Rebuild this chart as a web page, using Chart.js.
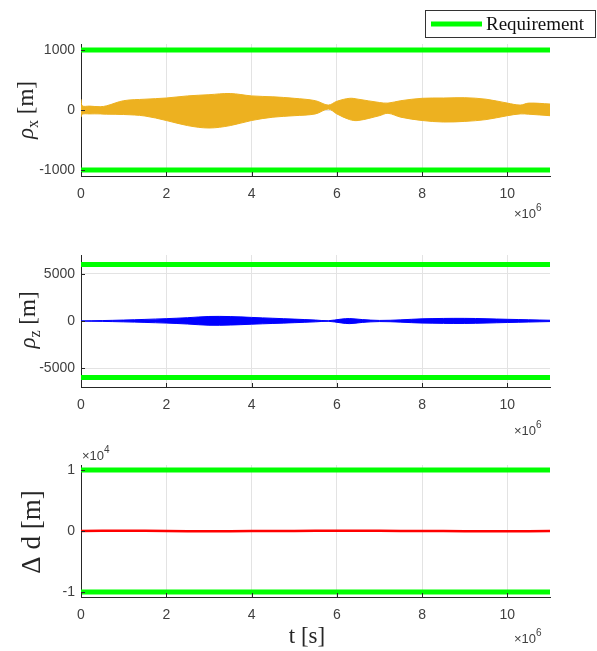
<!DOCTYPE html>
<html>
<head>
<meta charset="utf-8">
<script src="https://cdn.jsdelivr.net/npm/chart.js@4.4.1/dist/chart.umd.min.js"></script>
<style>
  body { margin: 0; background: #fff; }
  #wrap { position: relative; width: 597px; height: 651px; }
  canvas { position: absolute; left: 0; }
</style>
</head>
<body>
<div id="wrap">
  <canvas id="c1" width="597" height="225" style="top:0"></canvas>
  <canvas id="c2" width="597" height="215" style="top:225px"></canvas>
  <canvas id="c3" width="597" height="211" style="top:440px"></canvas>
</div>
<script>
// time axis [s]
const xTicks = [0, 2e6, 4e6, 6e6, 8e6, 10e6];
const tEnd = 11e6;

// rho_x envelope [m]
const tX = [0, 0.03e6, 0.2e6, 0.45e6, 0.6e6, 1e6, 1.5e6, 2e6, 2.5e6, 3e6, 3.5e6, 4e6, 4.5e6, 5e6, 5.5e6, 5.8e6, 6e6, 6.3e6, 6.5e6, 7e6, 7.2e6, 7.5e6, 8e6, 8.5e6, 9e6, 9.5e6, 10e6, 10.3e6, 10.5e6, 11e6];
const rhoxUpper = [180, 70, 65, 55, 70, 155, 180, 200, 235, 255, 275, 235, 220, 195, 155, 82, 145, 195, 180, 125, 115, 155, 195, 200, 205, 180, 115, 82, 115, 100];
const rhoxLower = [-120, -70, -65, -65, -70, -75, -100, -175, -260, -300, -260, -175, -120, -95, -65, 16, -65, -160, -175, -95, -55, -120, -175, -200, -190, -160, -95, -65, -70, -95];
const rhoxTicks = [-1000, 0, 1000];

// rho_z envelope [m]
const tZ = [0, 1e6, 2e6, 2.5e6, 3e6, 3.5e6, 4e6, 5e6, 5.5e6, 5.8e6, 6.1e6, 6.3e6, 6.6e6, 7e6, 7.5e6, 8e6, 9e6, 10e6, 11e6];
const rhozUpper = [0, 100, 250, 350, 480, 470, 380, 200, 100, 30, 200, 260, 150, 60, 120, 230, 280, 180, 80];
const rhozLower = [0, -90, -220, -320, -450, -430, -340, -180, -90, -30, -200, -280, -150, -60, -120, -220, -260, -160, -60];
const rhozTicks = [-5000, 0, 5000];

// delta d [m]
const tD = [0, 1e6, 2e6, 3e6, 4e6, 5e6, 6e6, 7e6, 8e6, 9e6, 10e6, 11e6];
const deltaD = [0, 50, 0, -60, -20, 0, 60, 30, 0, -30, -60, 0];
const deltaTicks = [-10000, 0, 10000];

// requirement limits
const reqX = 1000, reqZ = 6000, reqD = 10000;

const ORANGE = '#EDB120', BLUE = '#0000FF', RED = '#FF0000', GREEN = '#00FF00';
const AXIS = '#262626';

function pts(t, v) { return t.map((x, i) => ({ x: x, y: v[i] })); }
function req(v) { return [{ x: 0, y: v }, { x: tEnd, y: v }]; }

function reqSets(v) {
  return [
    { data: req(v), borderColor: GREEN, borderWidth: 5, pointRadius: 0, fill: false, label: 'Requirement' },
    { data: req(-v), borderColor: GREEN, borderWidth: 5, pointRadius: 0, fill: false }
  ];
}

function bandSets(t, up, lo, color) {
  return [
    { data: pts(t, up), borderColor: color, borderWidth: 1, backgroundColor: color, pointRadius: 0, tension: 0.35, fill: '+1' },
    { data: pts(t, lo), borderColor: color, borderWidth: 1, pointRadius: 0, tension: 0.35, fill: false }
  ];
}

function expo(ctx, x, y, p) {
  ctx.font = '13px "Liberation Sans"';
  ctx.fillText('\u00d710', x, y);
  const w = ctx.measureText('\u00d710').width;
  ctx.font = '10px "Liberation Sans"';
  ctx.fillText(p, x + w, y - 7);
}

const extras = {
  id: 'extras',
  afterDraw(chart, args, o) {
    const ctx = chart.ctx, a = chart.chartArea;
    const xs = chart.scales.x, ys = chart.scales.y;
    ctx.save();
    // inward tick marks
    ctx.strokeStyle = AXIS;
    ctx.lineWidth = 1;
    xs.ticks.forEach(tk => {
      const px = Math.round(xs.getPixelForValue(tk.value)) + 0.5;
      ctx.beginPath(); ctx.moveTo(px, a.bottom); ctx.lineTo(px, a.bottom - 4); ctx.stroke();
    });
    ys.ticks.forEach(tk => {
      const py = Math.round(ys.getPixelForValue(tk.value)) + 0.5;
      ctx.beginPath(); ctx.moveTo(a.left, py); ctx.lineTo(a.left + 4, py); ctx.stroke();
    });
    // exponent labels
    ctx.fillStyle = '#404040';
    ctx.textBaseline = 'alphabetic';
    ctx.textAlign = 'left';
    expo(ctx, 514, o.expY, '6');
    if (o.yExp) expo(ctx, 82, o.yExp, '4');
    // y title
    ctx.translate(o.titleX, o.titleY);
    ctx.rotate(-Math.PI / 2);
    ctx.fillStyle = AXIS;
    ctx.textBaseline = 'middle';
    const parts = o.title;
    let w = 0;
    parts.forEach(p => { ctx.font = p.font; w += ctx.measureText(p.text).width; });
    let x = -w / 2;
    parts.forEach(p => {
      ctx.font = p.font;
      ctx.fillText(p.text, x, p.dy || 0);
      x += ctx.measureText(p.text).width;
    });
    ctx.restore();
    ctx.save();
    // x title
    if (o.xTitle) {
      ctx.fillStyle = AXIS;
      ctx.font = '23px "Liberation Serif"';
      ctx.textAlign = 'center';
      ctx.textBaseline = 'middle';
      ctx.fillText('t [s]', 307, o.xTitle);
    }
    // legend
    if (o.legend) {
      ctx.fillStyle = '#fff';
      ctx.fillRect(425.5, 10.5, 170, 27);
      ctx.strokeStyle = '#333';
      ctx.lineWidth = 1;
      ctx.strokeRect(425.5, 10.5, 170, 27);
      ctx.strokeStyle = GREEN;
      ctx.lineWidth = 5;
      ctx.beginPath(); ctx.moveTo(431, 24); ctx.lineTo(482, 24); ctx.stroke();
      ctx.fillStyle = '#111';
      ctx.font = '19px "Liberation Serif"';
      ctx.textBaseline = 'middle';
      ctx.textAlign = 'left';
      ctx.fillText('Requirement', 486, 25);
    }
    ctx.restore();
  }
};

function makeChart(id, datasets, yLim, yTicks, yCb, padTop, xAxisH, opts) {
  return new Chart(document.getElementById(id), {
    type: 'line',
    data: { datasets: datasets },
    plugins: [extras],
    options: {
      responsive: false,
      animation: false,
      layout: { padding: { left: 0, right: 47, top: padTop, bottom: 0 } },
      plugins: { legend: { display: false }, tooltip: { enabled: false }, extras: opts },
      scales: {
        x: {
          type: 'linear', min: 0, max: tEnd,
          afterBuildTicks: s => { s.ticks = xTicks.map(v => ({ value: v })); },
          afterFit: s => { s.height = xAxisH; },
          grid: { color: '#e3e3e3', drawTicks: false },
          border: { color: AXIS, width: 1 },
          ticks: { padding: 10, color: '#404040', font: { family: 'Liberation Sans', size: 14 }, callback: v => v / 1e6, maxRotation: 0 }
        },
        y: {
          type: 'linear', min: -yLim, max: yLim,
          afterBuildTicks: s => { s.ticks = yTicks.map(v => ({ value: v })); },
          afterFit: s => { s.width = 81; },
          grid: { color: '#e3e3e3', drawTicks: false },
          border: { color: AXIS, width: 1 },
          ticks: { padding: 6, color: '#404040', font: { family: 'Liberation Sans', size: 14 }, callback: yCb }
        }
      }
    }
  });
}

makeChart('c1', reqSets(reqX).concat(bandSets(tX, rhoxUpper, rhoxLower, ORANGE)),
  1100, rhoxTicks, v => v, 44, 49,
  { expY: 218, titleX: 27, titleY: 110, legend: true,
    title: [
      { text: '\u03c1', font: 'italic 23px "Liberation Serif"' },
      { text: 'x', font: '16px "Liberation Serif"', dy: 7 },
      { text: ' [m]', font: '23px "Liberation Serif"' }
    ] });

makeChart('c2', reqSets(reqZ).concat(bandSets(tZ, rhozUpper, rhozLower, BLUE)),
  7000, rhozTicks, v => v, 30, 53,
  { expY: 210, titleX: 29, titleY: 95,
    title: [
      { text: '\u03c1', font: 'italic 23px "Liberation Serif"' },
      { text: 'z', font: '16px "Liberation Serif"', dy: 7 },
      { text: ' [m]', font: '23px "Liberation Serif"' }
    ] });

makeChart('c3', reqSets(reqD).concat([
  { data: pts(tD, deltaD), borderColor: RED, borderWidth: 2.5, pointRadius: 0, tension: 0.3, fill: false }
]), 10800, deltaTicks, v => v / 1e4, 25, 54,
  { expY: 203, yExp: 20, titleX: 33, titleY: 92, xTitle: 197,
    title: [
      { text: '\u0394 d [m]', font: '27px "Liberation Serif"' }
    ] });
</script>
</body>
</html>
